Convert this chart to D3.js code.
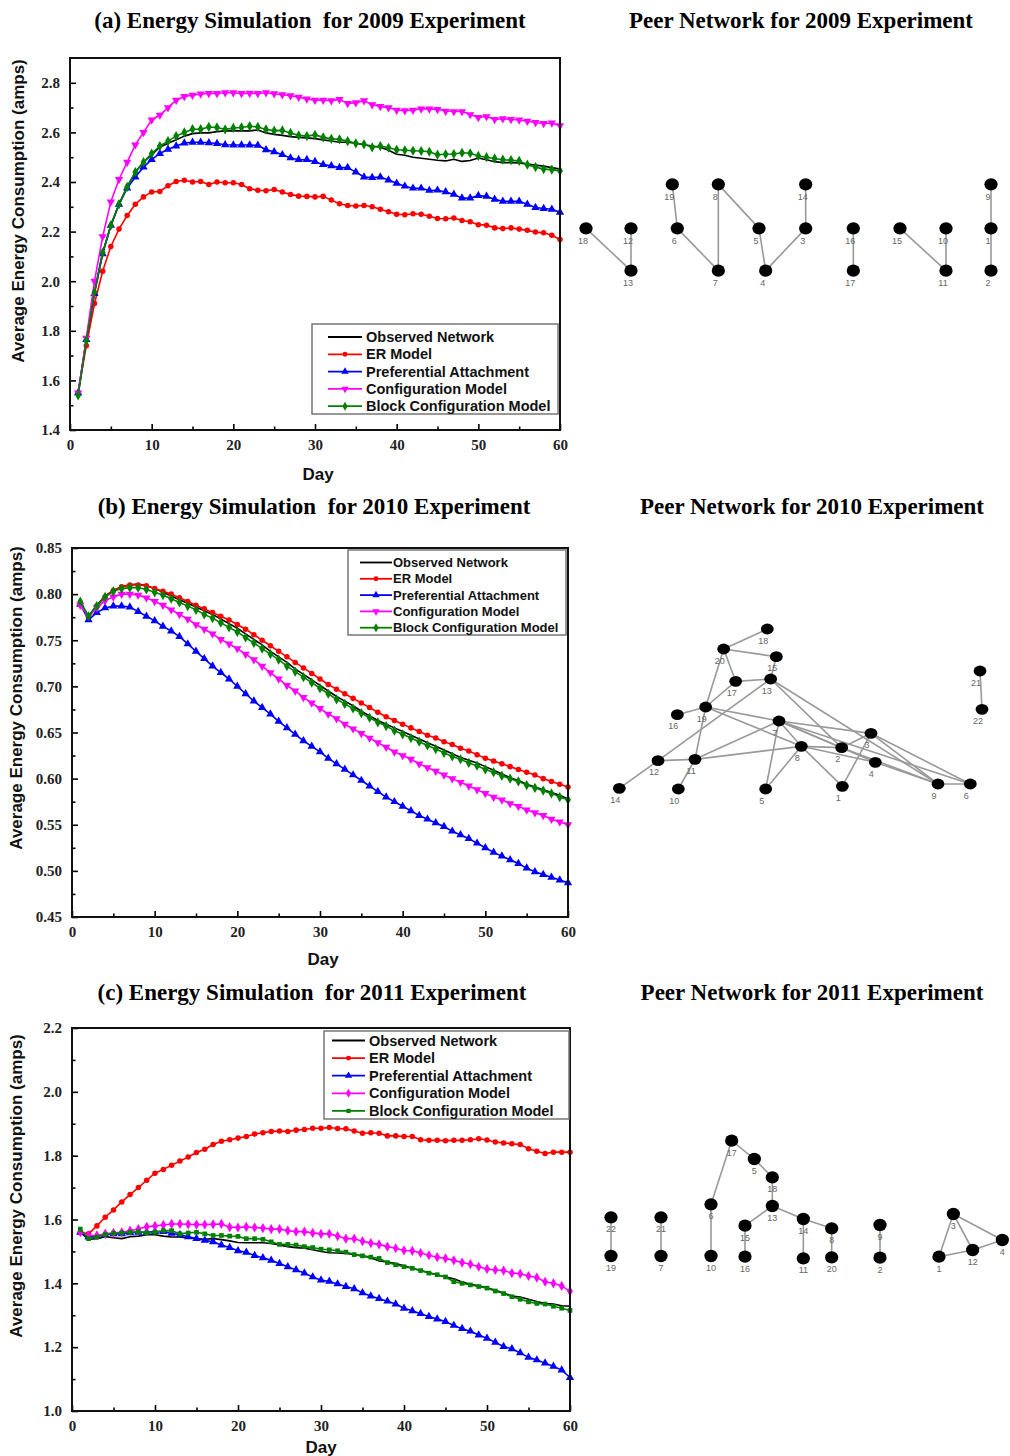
<!DOCTYPE html>
<html>
<head>
<meta charset="utf-8">
<script src="https://cdn.jsdelivr.net/npm/d3@7"></script>
<style>
  body { margin: 0; background: #fff; }
  svg { display: block; }
  .title { font-family: "Liberation Serif", "Times New Roman", serif; font-weight: bold; font-size: 23px; white-space: pre; fill: #000; }
  .tick text { font-family: "Liberation Serif", "Times New Roman", serif; font-weight: bold; font-size: 15px; fill: #222; }
  .axis-title { font-family: "Liberation Sans", Arial, sans-serif; font-weight: bold; font-size: 17px; fill: #111; }
  .legend text { font-family: "Liberation Sans", Arial, sans-serif; font-weight: bold; fill: #111; }
  .node-label { font-family: "Liberation Sans", Arial, sans-serif; font-size: 9px; fill: #666; }
</style>
</head>
<body>
<svg id="chart" width="1010" height="1456"></svg>
<script>
// ---------- simulation data (average consumption in amps, days 1..60) ----------
const days = d3.range(1, 61);
const seriesNames = ["Observed Network", "ER Model", "Preferential Attachment", "Configuration Model", "Block Configuration Model"];
const xTicks = [0, 10, 20, 30, 40, 50, 60];
const xMinorTicks = [5, 15, 25, 35, 45, 55];

// 2009 experiment
const obs2009 = [1.55,1.76,1.96,2.115,2.225,2.31,2.38,2.44,2.48,2.51, 2.54,2.556,2.57,2.585,2.595,2.598,2.598,2.603,2.606,2.607, 2.606,2.606,2.61,2.598,2.592,2.588,2.583,2.58,2.578,2.575, 2.57,2.565,2.56,2.56,2.556,2.55,2.545,2.54,2.528,2.512, 2.508,2.5,2.496,2.492,2.488,2.485,2.492,2.483,2.487,2.497, 2.49,2.482,2.478,2.478,2.477,2.472,2.468,2.464,2.458,2.452];
const er2009 = [1.55,1.74,1.91,2.04,2.14,2.21,2.265,2.31,2.34,2.36, 2.362,2.385,2.402,2.407,2.40,2.402,2.39,2.40,2.397,2.397, 2.39,2.373,2.367,2.365,2.37,2.36,2.35,2.343,2.342,2.34, 2.342,2.327,2.312,2.305,2.303,2.305,2.30,2.29,2.28,2.27, 2.268,2.272,2.27,2.262,2.253,2.252,2.255,2.245,2.24,2.228, 2.226,2.215,2.212,2.215,2.21,2.205,2.198,2.195,2.185,2.168];
const pa2009 = [1.55,1.765,1.95,2.11,2.225,2.31,2.375,2.42,2.46,2.49, 2.515,2.532,2.545,2.557,2.56,2.56,2.558,2.555,2.55,2.549, 2.549,2.549,2.548,2.53,2.522,2.51,2.497,2.49,2.49,2.482, 2.47,2.465,2.458,2.458,2.44,2.42,2.418,2.42,2.408,2.395, 2.383,2.375,2.375,2.366,2.367,2.36,2.35,2.335,2.335,2.345, 2.342,2.33,2.322,2.322,2.322,2.31,2.297,2.293,2.29,2.278];
const cfg2009 = [1.55,1.77,2.00,2.18,2.32,2.41,2.48,2.55,2.60,2.65, 2.67,2.70,2.73,2.745,2.75,2.755,2.757,2.757,2.76,2.76, 2.757,2.758,2.757,2.76,2.756,2.752,2.748,2.742,2.735,2.73, 2.73,2.728,2.733,2.717,2.72,2.728,2.712,2.705,2.7,2.69, 2.688,2.69,2.695,2.695,2.693,2.686,2.684,2.684,2.672,2.66, 2.664,2.652,2.655,2.652,2.65,2.645,2.64,2.636,2.638,2.627];
const blk2009 = [1.54,1.76,1.955,2.115,2.225,2.31,2.38,2.44,2.48,2.515, 2.545,2.565,2.585,2.60,2.613,2.613,2.622,2.62,2.612,2.618, 2.62,2.625,2.622,2.612,2.607,2.608,2.598,2.588,2.585,2.59, 2.58,2.574,2.572,2.565,2.556,2.552,2.54,2.545,2.538,2.53, 2.528,2.526,2.525,2.522,2.51,2.512,2.513,2.518,2.516,2.505, 2.5,2.495,2.49,2.488,2.485,2.47,2.46,2.452,2.45,2.445];
const yTicks2009 = [1.4, 1.6, 1.8, 2.0, 2.2, 2.4, 2.6, 2.8];
const yMinor2009 = [1.5, 1.7, 1.9, 2.1, 2.3, 2.5, 2.7];

// 2010 experiment
const obs2010 = [0.790,0.776,0.788,0.798,0.804,0.808,0.810,0.811,0.809,0.806, 0.802,0.798,0.794,0.790,0.786,0.782,0.778,0.773,0.768,0.763, 0.757,0.751,0.745,0.738,0.732,0.726,0.719,0.713,0.707,0.701, 0.695,0.689,0.684,0.679,0.673,0.668,0.663,0.659,0.655,0.651, 0.647,0.643,0.639,0.635,0.631,0.627,0.623,0.620,0.617,0.613, 0.609,0.605,0.601,0.598,0.594,0.591,0.588,0.585,0.582,0.578];
const er2010 = [0.790,0.775,0.787,0.797,0.804,0.808,0.810,0.810,0.809,0.806, 0.803,0.800,0.796,0.792,0.788,0.784,0.780,0.776,0.772,0.767, 0.762,0.756,0.750,0.744,0.738,0.732,0.726,0.720,0.714,0.708, 0.702,0.697,0.692,0.687,0.682,0.677,0.672,0.667,0.663,0.659, 0.655,0.651,0.647,0.644,0.640,0.637,0.633,0.630,0.626,0.622, 0.619,0.616,0.613,0.610,0.607,0.604,0.600,0.597,0.594,0.591];
const pa2010 = [0.789,0.772,0.780,0.785,0.787,0.787,0.786,0.781,0.776,0.771, 0.765,0.760,0.754,0.746,0.738,0.730,0.722,0.715,0.708,0.700, 0.692,0.684,0.677,0.670,0.662,0.655,0.648,0.641,0.635,0.629, 0.622,0.616,0.610,0.604,0.598,0.592,0.586,0.580,0.575,0.570, 0.565,0.560,0.556,0.552,0.548,0.543,0.539,0.535,0.530,0.525, 0.520,0.516,0.512,0.508,0.503,0.499,0.496,0.493,0.490,0.487];
const cfg2010 = [0.788,0.776,0.785,0.793,0.797,0.800,0.800,0.799,0.796,0.792, 0.788,0.783,0.778,0.773,0.767,0.762,0.757,0.751,0.746,0.741, 0.735,0.729,0.722,0.715,0.708,0.701,0.695,0.688,0.682,0.676, 0.670,0.665,0.659,0.654,0.649,0.644,0.639,0.634,0.629,0.625, 0.621,0.616,0.612,0.608,0.604,0.600,0.596,0.592,0.588,0.584, 0.580,0.577,0.573,0.570,0.566,0.563,0.560,0.556,0.553,0.550];
const blk2010 = [0.792,0.776,0.787,0.797,0.803,0.806,0.807,0.807,0.805,0.802, 0.799,0.795,0.791,0.787,0.783,0.778,0.774,0.769,0.764,0.759, 0.753,0.747,0.741,0.735,0.729,0.722,0.716,0.710,0.704,0.698, 0.692,0.686,0.681,0.676,0.671,0.666,0.661,0.657,0.652,0.648, 0.644,0.640,0.636,0.632,0.628,0.624,0.621,0.617,0.614,0.610, 0.607,0.603,0.600,0.597,0.593,0.590,0.587,0.584,0.580,0.577];
const yTicks2010 = [0.45, 0.50, 0.55, 0.60, 0.65, 0.70, 0.75, 0.80, 0.85];
const yMinor2010 = [0.475, 0.525, 0.575, 0.625, 0.675, 0.725, 0.775, 0.825];

// 2011 experiment
const obs2011 = [1.560,1.538,1.540,1.546,1.543,1.540,1.546,1.548,1.552,1.552, 1.548,1.545,1.545,1.542,1.540,1.538,1.540,1.537,1.533,1.528, 1.527,1.527,1.527,1.525,1.520,1.515,1.512,1.510,1.505,1.500, 1.496,1.495,1.494,1.490,1.486,1.480,1.470,1.467,1.462,1.455, 1.447,1.440,1.434,1.426,1.420,1.414,1.404,1.397,1.392,1.386, 1.378,1.370,1.360,1.357,1.350,1.343,1.337,1.335,1.330,1.328];
const er2011 = [1.560,1.555,1.580,1.607,1.630,1.655,1.678,1.700,1.723,1.745, 1.757,1.770,1.783,1.796,1.810,1.820,1.835,1.845,1.850,1.855, 1.860,1.868,1.872,1.876,1.877,1.876,1.880,1.882,1.886,1.886, 1.888,1.885,1.884,1.877,1.870,1.872,1.870,1.862,1.862,1.860, 1.860,1.850,1.848,1.848,1.847,1.848,1.848,1.850,1.853,1.849, 1.843,1.840,1.837,1.835,1.822,1.814,1.807,1.811,1.811,1.811];
const pa2011 = [1.560,1.545,1.548,1.553,1.555,1.555,1.558,1.560,1.560,1.562, 1.562,1.557,1.552,1.546,1.540,1.535,1.530,1.520,1.512,1.502, 1.497,1.487,1.480,1.472,1.462,1.452,1.442,1.432,1.420,1.410, 1.406,1.398,1.390,1.383,1.370,1.360,1.352,1.344,1.335,1.322, 1.314,1.305,1.296,1.288,1.280,1.268,1.258,1.250,1.238,1.228, 1.215,1.202,1.195,1.182,1.168,1.160,1.150,1.140,1.128,1.105];
const cfg2011 = [1.560,1.550,1.550,1.555,1.558,1.560,1.565,1.570,1.577,1.580, 1.583,1.586,1.586,1.585,1.584,1.584,1.585,1.586,1.576,1.575, 1.577,1.575,1.573,1.570,1.570,1.565,1.562,1.562,1.558,1.555, 1.555,1.548,1.540,1.540,1.532,1.526,1.522,1.515,1.510,1.503, 1.502,1.495,1.488,1.482,1.478,1.472,1.465,1.460,1.452,1.445, 1.442,1.440,1.432,1.430,1.423,1.418,1.405,1.400,1.392,1.375];
const blk2011 = [1.570,1.540,1.545,1.553,1.557,1.558,1.560,1.562,1.558,1.560, 1.565,1.565,1.555,1.558,1.560,1.555,1.550,1.550,1.548,1.547, 1.540,1.540,1.538,1.530,1.522,1.522,1.520,1.515,1.512,1.507, 1.505,1.502,1.498,1.490,1.486,1.482,1.478,1.465,1.458,1.452, 1.447,1.440,1.432,1.427,1.420,1.405,1.400,1.395,1.390,1.385, 1.376,1.368,1.358,1.350,1.342,1.337,1.335,1.328,1.322,1.315];
const yTicks2011 = [1.0, 1.2, 1.4, 1.6, 1.8, 2.0, 2.2];
const yMinor2011 = [1.1, 1.3, 1.5, 1.7, 1.9, 2.1];

// ---------- peer networks: [participant id, layout x, layout y] and links ----------
const net2009Nodes = [[18,48,175],[12,183,175],[13,183,302],[19,307,43],[6,322,175],[8,445,43],[7,445,302],[5,567,175],[4,587,302],[14,707,43],[3,707,175],[16,850,175],[17,850,302],[15,990,175],[10,1128,175],[11,1128,302],[9,1263,43],[1,1263,175],[2,1263,302]];
const net2009Links = [[18,13],[12,13],[19,6],[6,7],[8,7],[8,5],[5,4],[4,3],[14,3],[16,17],[15,11],[10,11],[9,1],[1,2]];

const net2010Nodes = [[18,502,42],[20,371,102],[15,529,125],[17,407,199],[13,512,192],[19,317,276],[16,232,299],[7,537,318],[3,813,355],[8,604,394],[2,725,398],[4,826,442],[12,174,437],[11,285,433],[14,58,520],[10,235,522],[5,497,522],[1,727,514],[9,1014,507],[6,1111,507],[21,1140,168],[22,1146,283]];
const net2010Links = [[18,20],[20,15],[20,17],[20,19],[17,13],[17,19],[15,13],[19,16],[19,11],[19,7],[19,8],[13,12],[13,2],[13,9],[12,14],[12,11],[11,10],[11,7],[11,8],[7,5],[7,8],[7,3],[7,2],[7,4],[7,6],[8,5],[8,2],[8,1],[8,4],[2,3],[2,9],[3,1],[3,9],[3,6],[4,9],[9,6],[21,22]];

const net2011Nodes = [[17,425,47],[5,493,102],[18,547,157],[13,547,243],[6,363,238],[10,363,393],[15,465,302],[16,465,395],[14,640,282],[11,640,400],[8,725,310],[20,725,397],[22,63,277],[19,63,393],[21,213,277],[7,213,393],[9,870,300],[2,870,398],[3,1090,267],[4,1237,345],[12,1148,375],[1,1047,395]];
const net2011Links = [[17,5],[5,18],[18,13],[17,6],[6,10],[13,15],[15,16],[13,14],[14,8],[14,11],[8,20],[22,19],[21,7],[9,2],[3,1],[3,12],[3,4],[1,12],[12,4]];

// ---------- drawing ----------
const svg = d3.select("#chart");
svg.append("rect").attr("width", 1010).attr("height", 1456).attr("fill", "#fff");

const colors = ["#000000", "#ff0000", "#0000ff", "#ff00ff", "#008000"];
const symbols = {
  circle:       { type: d3.symbolCircle,   size: 24, rot: 0 },
  triangle:     { type: d3.symbolTriangle, size: 30, rot: 0 },
  triangleDown: { type: d3.symbolTriangle, size: 30, rot: 180 },
  diamond:      { type: d3.symbolDiamond,  size: 30, rot: 0 },
  square:       { type: d3.symbolSquare,   size: 22, rot: 0 }
};

const panels = [
  {
    title: "(a) Energy Simulation  for 2009 Experiment", titleX: 310, titleY: 28,
    netTitle: "Peer Network for 2009 Experiment", netTitleX: 801,
    box: { x0: 70, x1: 560, y0: 58, y1: 430 },
    yDomain: [1.4, 2.9], yTicks: yTicks2009, yMinor: yMinor2009, yFmt: ".1f",
    series: [obs2009, er2009, pa2009, cfg2009, blk2009],
    markers: [null, "circle", "triangle", "triangleDown", "diamond"],
    yLabel: { x: 24, y: 211 }, xLabel: { x: 318, y: 480 },
    legend: { x0: 312, y0: 324, x1: 558, y1: 414, first: 337, step: 17.3, lx0: 328, lx1: 362, tx: 366, font: 14.5 }
  },
  {
    title: "(b) Energy Simulation  for 2010 Experiment", titleX: 314, titleY: 514,
    netTitle: "Peer Network for 2010 Experiment", netTitleX: 812,
    box: { x0: 72, x1: 568, y0: 548, y1: 917 },
    yDomain: [0.45, 0.85], yTicks: yTicks2010, yMinor: yMinor2010, yFmt: ".2f",
    series: [obs2010, er2010, pa2010, cfg2010, blk2010],
    markers: [null, "circle", "triangle", "triangleDown", "diamond"],
    yLabel: { x: 22, y: 698 }, xLabel: { x: 323, y: 965 },
    legend: { x0: 348, y0: 550, x1: 566, y1: 635, first: 562.5, step: 16.3, lx0: 360, lx1: 392, tx: 393, font: 13 }
  },
  {
    title: "(c) Energy Simulation  for 2011 Experiment", titleX: 312, titleY: 1000,
    netTitle: "Peer Network for 2011 Experiment", netTitleX: 812,
    box: { x0: 72, x1: 570, y0: 1028, y1: 1411 },
    yDomain: [1.0, 2.2], yTicks: yTicks2011, yMinor: yMinor2011, yFmt: ".1f",
    series: [obs2011, er2011, pa2011, cfg2011, blk2011],
    markers: [null, "circle", "triangle", "diamond", "square"],
    yLabel: { x: 22, y: 1186 }, xLabel: { x: 321, y: 1453 },
    legend: { x0: 324, y0: 1031, x1: 569, y1: 1119, first: 1040.5, step: 17.6, lx0: 332, lx1: 365, tx: 369, font: 14.5 }
  }
];

panels.forEach(p => {
  const x = d3.scaleLinear().domain([0, 60]).range([p.box.x0, p.box.x1]);
  const y = d3.scaleLinear().domain(p.yDomain).range([p.box.y1, p.box.y0]);
  const g = svg.append("g");

  // titles
  g.append("text").attr("class", "title").attr("x", p.titleX).attr("y", p.titleY)
    .attr("text-anchor", "middle").text(p.title);
  g.append("text").attr("class", "title").attr("x", p.netTitleX).attr("y", p.titleY)
    .attr("text-anchor", "middle").text(p.netTitle);

  // series lines and markers
  const line = d3.line().x(q => x(q.d)).y(q => y(q.v));
  p.series.forEach((vals, i) => {
    const pts = days.map((d, j) => ({ d: d, v: vals[j] }));
    g.append("path").datum(pts).attr("d", line)
      .attr("fill", "none").attr("stroke", colors[i]).attr("stroke-width", 1.6)
      .attr("stroke-linejoin", "round");
    const key = p.markers[i];
    if (key) {
      const s = symbols[key];
      g.append("g").selectAll("path").data(pts).join("path")
        .attr("d", d3.symbol(s.type, s.size))
        .attr("fill", colors[i])
        .attr("transform", q => `translate(${x(q.d)},${y(q.v)}) rotate(${s.rot})`);
    }
  });

  // axes: ticks point into the plot
  g.append("g").attr("transform", `translate(0,${p.box.y1})`)
    .call(d3.axisBottom(x).tickValues(xTicks).tickSize(-6).tickPadding(9).tickFormat(d3.format("d")));
  g.append("g").attr("transform", `translate(0,${p.box.y1})`)
    .call(d3.axisBottom(x).tickValues(xMinorTicks).tickSize(-3.5).tickFormat(""));
  g.append("g").attr("transform", `translate(${p.box.x0},0)`)
    .call(d3.axisLeft(y).tickValues(p.yTicks).tickSize(-6).tickPadding(10).tickFormat(d3.format(p.yFmt)));
  g.append("g").attr("transform", `translate(${p.box.x0},0)`)
    .call(d3.axisLeft(y).tickValues(p.yMinor).tickSize(-3.5).tickFormat(""));
  g.selectAll(".domain").remove();
  g.selectAll(".tick line").attr("stroke", "#000").attr("stroke-width", 1.6);

  // frame
  g.append("rect").attr("x", p.box.x0).attr("y", p.box.y0)
    .attr("width", p.box.x1 - p.box.x0).attr("height", p.box.y1 - p.box.y0)
    .attr("fill", "none").attr("stroke", "#111").attr("stroke-width", 2);

  // axis titles
  g.append("text").attr("class", "axis-title")
    .attr("transform", `translate(${p.yLabel.x},${p.yLabel.y}) rotate(-90)`)
    .attr("text-anchor", "middle").text("Average Energy Consumption (amps)");
  g.append("text").attr("class", "axis-title").attr("x", p.xLabel.x).attr("y", p.xLabel.y)
    .attr("text-anchor", "middle").style("font-size", "17px").text("Day");

  // legend
  const L = p.legend;
  const lg = g.append("g").attr("class", "legend");
  lg.append("rect").attr("x", L.x0).attr("y", L.y0).attr("width", L.x1 - L.x0).attr("height", L.y1 - L.y0)
    .attr("fill", "#fff").attr("stroke", "#777").attr("stroke-width", 1.5);
  seriesNames.forEach((name, i) => {
    const cy = L.first + i * L.step;
    lg.append("line").attr("x1", L.lx0).attr("x2", L.lx1).attr("y1", cy).attr("y2", cy)
      .attr("stroke", colors[i]).attr("stroke-width", 1.8);
    const key = p.markers[i];
    if (key) {
      const s = symbols[key];
      lg.append("path").attr("d", d3.symbol(s.type, s.size * 0.8)).attr("fill", colors[i])
        .attr("transform", `translate(${(L.lx0 + L.lx1) / 2},${cy}) rotate(${s.rot})`);
    }
    lg.append("text").attr("x", L.tx).attr("y", cy).attr("dy", "0.35em")
      .style("font-size", L.font + "px").text(name);
  });
});

// peer network diagrams
const networks = [
  { nodes: net2009Nodes, links: net2009Links, origin: [570, 170], labelDx: -3, labelDy: 15.5, rx: 6.6, ry: 6.2 },
  { nodes: net2010Nodes, links: net2010Links, origin: [600, 615], labelDx: -4, labelDy: 14.5, rx: 6.4, ry: 5.4 },
  { nodes: net2011Nodes, links: net2011Links, origin: [590, 1125], labelDx: 0, labelDy: 15, rx: 6.6, ry: 6.2 }
];

networks.forEach(n => {
  const sx = d3.scaleLinear().domain([0, 3]).range([n.origin[0], n.origin[0] + 1]);
  const sy = d3.scaleLinear().domain([0, 3]).range([n.origin[1], n.origin[1] + 1]);
  const byId = new Map(n.nodes.map(d => [d[0], d]));
  const g = svg.append("g");
  g.selectAll("line").data(n.links).join("line")
    .attr("x1", l => sx(byId.get(l[0])[1])).attr("y1", l => sy(byId.get(l[0])[2]))
    .attr("x2", l => sx(byId.get(l[1])[1])).attr("y2", l => sy(byId.get(l[1])[2]))
    .attr("stroke", "#999").attr("stroke-width", 1.6);
  g.selectAll("ellipse").data(n.nodes).join("ellipse")
    .attr("cx", d => sx(d[1])).attr("cy", d => sy(d[2]))
    .attr("rx", n.rx).attr("ry", n.ry).attr("fill", "#000");
  g.selectAll("text").data(n.nodes).join("text").attr("class", "node-label")
    .attr("x", d => sx(d[1]) + n.labelDx).attr("y", d => sy(d[2]) + n.labelDy)
    .attr("text-anchor", "middle").text(d => d[0]);
});
</script>
</body>
</html>
